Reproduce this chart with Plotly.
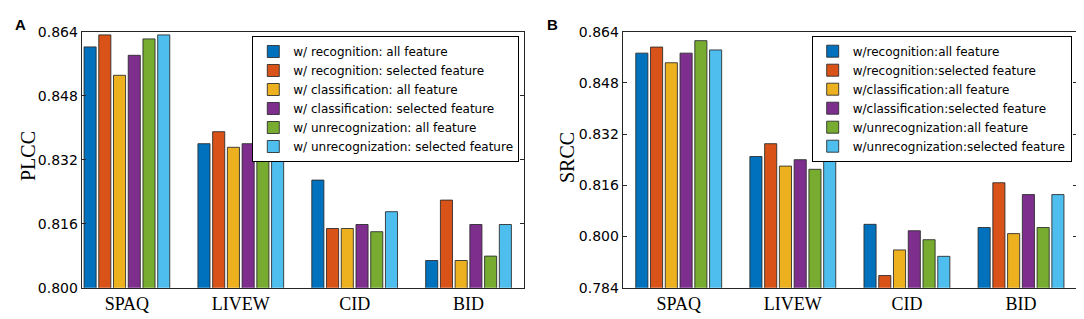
import plotly.graph_objects as go

categories = ["SPAQ", "LIVEW", "CID", "BID"]

series_a = [
    "w/ recognition: all feature",
    "w/ recognition: selected feature",
    "w/ classification: all feature",
    "w/ classification: selected feature",
    "w/ unrecognization: all feature",
    "w/ unrecognization: selected feature",
]
series_b = [
    "w/recognition:all feature",
    "w/recognition:selected feature",
    "w/classification:all feature",
    "w/classification:selected feature",
    "w/unrecognization:all feature",
    "w/unrecognization:selected feature",
]

# PLCC values per series (SPAQ, LIVEW, CID, BID)
plcc_rec_all = [0.8602, 0.8360, 0.8269, 0.8068]
plcc_rec_sel = [0.8632, 0.8390, 0.8148, 0.8219]
plcc_cls_all = [0.8531, 0.8351, 0.8148, 0.8068]
plcc_cls_sel = [0.8581, 0.8360, 0.8158, 0.8158]
plcc_unr_all = [0.8622, 0.8330, 0.8140, 0.8079]
plcc_unr_sel = [0.8632, 0.8351, 0.8190, 0.8158]

# SRCC values per series
srcc_rec_all = [0.8573, 0.8250, 0.8038, 0.8028]
srcc_rec_sel = [0.8592, 0.8290, 0.7878, 0.8168]
srcc_cls_all = [0.8543, 0.8220, 0.7958, 0.8009]
srcc_cls_sel = [0.8573, 0.8240, 0.8018, 0.8131]
srcc_unr_all = [0.8612, 0.8210, 0.7990, 0.8028]
srcc_unr_sel = [0.8583, 0.8290, 0.7938, 0.8131]

plcc = [plcc_rec_all, plcc_rec_sel, plcc_cls_all, plcc_cls_sel, plcc_unr_all, plcc_unr_sel]
srcc = [srcc_rec_all, srcc_rec_sel, srcc_cls_all, srcc_cls_sel, srcc_unr_all, srcc_unr_sel]

colors = ["#0072BD", "#D95319", "#EDB120", "#7E2F8E", "#77AC30", "#4DBEEE"]

plcc_ticks = [0.800, 0.816, 0.832, 0.848, 0.864]
srcc_ticks = [0.784, 0.800, 0.816, 0.832, 0.848, 0.864]

# page body has an 8px default margin; size the figure to fill the rest of the window
OFF = 8
W, H = 1084 - OFF, 319 - OFF

def px_x(v):
    return (v - OFF) / W

def px_y(v):
    return 1 - (v - OFF) / H

fig = go.Figure()

for i in range(6):
    fig.add_trace(go.Bar(
        x=categories, y=plcc[i], name=series_a[i],
        marker=dict(color=colors[i], line=dict(color="rgba(40,40,40,0.85)", width=1)),
        xaxis="x", yaxis="y", legend="legend", offsetgroup=str(i),
    ))
for i in range(6):
    fig.add_trace(go.Bar(
        x=categories, y=srcc[i], name=series_b[i],
        marker=dict(color=colors[i], line=dict(color="rgba(40,40,40,0.85)", width=1)),
        xaxis="x2", yaxis="y2", legend="legend2", offsetgroup=str(i),
    ))

axis_col = "#262626"
tickfont = dict(family="DejaVu Sans", size=14, color="black")
xtickfont = dict(family="Liberation Serif", size=18, color="black")
legfont = dict(family="DejaVu Sans", size=12, color="black")

ydom = [px_y(287.7), px_y(31.7)]

common_y = dict(
    showline=True, linecolor=axis_col, linewidth=1, mirror="ticks",
    ticks="inside", ticklen=4, tickcolor=axis_col, tickwidth=1,
    showgrid=False, zeroline=False, tickfont=tickfont, tickformat=".3f",
    domain=ydom, automargin=False,
)
common_x = dict(
    showline=True, linecolor=axis_col, linewidth=1, mirror=True,
    ticks="", showgrid=False, zeroline=False, tickfont=xtickfont,
    type="category", automargin=False,
)

fig.update_layout(
    template="none",
    width=W, height=H,
    margin=dict(l=0, r=0, t=0, b=0, pad=0),
    paper_bgcolor="white", plot_bgcolor="white",
    barmode="group", bargap=0.224, bargroupgap=0.18,
    xaxis=dict(common_x, domain=[px_x(81.7), px_x(524)], range=[-0.397, 3.487], anchor="y"),
    yaxis=dict(common_y, range=[0.800, 0.864], tickvals=plcc_ticks, anchor="x"),
    xaxis2=dict(common_x, domain=[px_x(622.7), px_x(1076.7)], range=[-0.491, 3.488], anchor="y2"),
    yaxis2=dict(common_y, range=[0.784, 0.864], tickvals=srcc_ticks, anchor="x2"),
    legend=dict(
        x=px_x(519.3), xanchor="right", y=px_y(36), yanchor="top",
        bgcolor="white", bordercolor="black", borderwidth=1,
        font=legfont, tracegroupgap=0, itemwidth=30,
    ),
    legend2=dict(
        x=px_x(1071.7), xanchor="right", y=px_y(35.7), yanchor="top",
        bgcolor="white", bordercolor="black", borderwidth=1,
        font=legfont, tracegroupgap=0, itemwidth=30,
    ),
    showlegend=True,
    annotations=[
        dict(text="<b>A</b>", x=px_x(12.5), y=px_y(13.5), xref="paper", yref="paper",
             showarrow=False, font=dict(family="Arial", size=15, color="black")),
        dict(text="<b>B</b>", x=px_x(552), y=px_y(13.5), xref="paper", yref="paper",
             showarrow=False, font=dict(family="Arial", size=15, color="black")),
        dict(text="PLCC", x=px_x(15), y=px_y(156), xref="paper", yref="paper",
             textangle=-90, showarrow=False,
             font=dict(family="Liberation Serif", size=20, color="black")),
        dict(text="SRCC", x=px_x(567), y=px_y(158), xref="paper", yref="paper",
             textangle=-90, showarrow=False,
             font=dict(family="Liberation Serif", size=20, color="black")),
    ],
)

fig.write_html("out.html")
